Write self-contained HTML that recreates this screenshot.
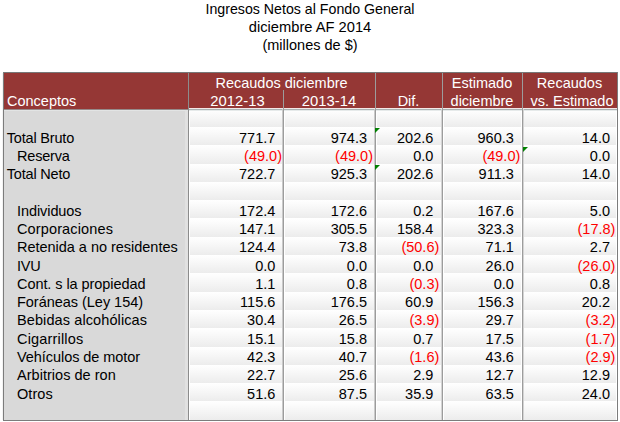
<!DOCTYPE html><html><head><meta charset="utf-8"><style>
html,body{margin:0;padding:0;background:#fff;width:620px;height:422px;overflow:hidden}
body{position:relative;font-family:"Liberation Sans",sans-serif;font-size:14.5px;color:#000}
.t{position:absolute;white-space:nowrap;line-height:20px;height:20px}
.c{text-align:center}.r{text-align:right}.red{color:#f00}.w{color:#fff}
.a{position:absolute}
.g{background:linear-gradient(to bottom,#fff 0%,#fcfcfc 18%,#ececec 100%)}
</style></head><body>
<div class="t c" style="left:160px;width:300px;top:-0.76px;font-size:14.2px">Ingresos Netos al Fondo General</div>
<div class="t c" style="left:160px;width:300px;top:17.34px;font-size:14.7px">diciembre AF 2014</div>
<div class="t c" style="left:160px;width:300px;top:35.44px;font-size:14.5px">(millones de $)</div>
<div class="a" style="left:3px;top:72px;width:615px;height:349px;background:#fff"></div>
<div class="a" style="left:2px;top:73px;width:1px;height:347px;background:#f3f3f3"></div>
<div class="a" style="left:4px;top:73px;width:184px;height:347px;background:#d9d9d9"></div>
<div class="a" style="left:185px;top:111px;width:3px;height:309px;background:#e1e1e1"></div>
<div class="a g" style="left:190px;top:108.74px;width:92px;height:18.29px"></div>
<div class="a g" style="left:285px;top:108.74px;width:89px;height:18.29px"></div>
<div class="a g" style="left:377px;top:108.74px;width:64px;height:18.29px"></div>
<div class="a g" style="left:444px;top:108.74px;width:77px;height:18.29px"></div>
<div class="a g" style="left:524px;top:108.74px;width:92px;height:18.29px"></div>
<div class="a g" style="left:190px;top:127.03px;width:92px;height:18.29px"></div>
<div class="a g" style="left:285px;top:127.03px;width:89px;height:18.29px"></div>
<div class="a g" style="left:377px;top:127.03px;width:64px;height:18.29px"></div>
<div class="a g" style="left:444px;top:127.03px;width:77px;height:18.29px"></div>
<div class="a g" style="left:524px;top:127.03px;width:92px;height:18.29px"></div>
<div class="a g" style="left:190px;top:145.33px;width:92px;height:18.29px"></div>
<div class="a g" style="left:285px;top:145.33px;width:89px;height:18.29px"></div>
<div class="a g" style="left:377px;top:145.33px;width:64px;height:18.29px"></div>
<div class="a g" style="left:444px;top:145.33px;width:77px;height:18.29px"></div>
<div class="a g" style="left:524px;top:145.33px;width:92px;height:18.29px"></div>
<div class="a g" style="left:190px;top:163.62px;width:92px;height:18.29px"></div>
<div class="a g" style="left:285px;top:163.62px;width:89px;height:18.29px"></div>
<div class="a g" style="left:377px;top:163.62px;width:64px;height:18.29px"></div>
<div class="a g" style="left:444px;top:163.62px;width:77px;height:18.29px"></div>
<div class="a g" style="left:524px;top:163.62px;width:92px;height:18.29px"></div>
<div class="a g" style="left:190px;top:181.91px;width:92px;height:18.29px"></div>
<div class="a g" style="left:285px;top:181.91px;width:89px;height:18.29px"></div>
<div class="a g" style="left:377px;top:181.91px;width:64px;height:18.29px"></div>
<div class="a g" style="left:444px;top:181.91px;width:77px;height:18.29px"></div>
<div class="a g" style="left:524px;top:181.91px;width:92px;height:18.29px"></div>
<div class="a g" style="left:190px;top:200.21px;width:92px;height:18.29px"></div>
<div class="a g" style="left:285px;top:200.21px;width:89px;height:18.29px"></div>
<div class="a g" style="left:377px;top:200.21px;width:64px;height:18.29px"></div>
<div class="a g" style="left:444px;top:200.21px;width:77px;height:18.29px"></div>
<div class="a g" style="left:524px;top:200.21px;width:92px;height:18.29px"></div>
<div class="a g" style="left:190px;top:218.50px;width:92px;height:18.29px"></div>
<div class="a g" style="left:285px;top:218.50px;width:89px;height:18.29px"></div>
<div class="a g" style="left:377px;top:218.50px;width:64px;height:18.29px"></div>
<div class="a g" style="left:444px;top:218.50px;width:77px;height:18.29px"></div>
<div class="a g" style="left:524px;top:218.50px;width:92px;height:18.29px"></div>
<div class="a g" style="left:190px;top:236.79px;width:92px;height:18.29px"></div>
<div class="a g" style="left:285px;top:236.79px;width:89px;height:18.29px"></div>
<div class="a g" style="left:377px;top:236.79px;width:64px;height:18.29px"></div>
<div class="a g" style="left:444px;top:236.79px;width:77px;height:18.29px"></div>
<div class="a g" style="left:524px;top:236.79px;width:92px;height:18.29px"></div>
<div class="a g" style="left:190px;top:255.09px;width:92px;height:18.29px"></div>
<div class="a g" style="left:285px;top:255.09px;width:89px;height:18.29px"></div>
<div class="a g" style="left:377px;top:255.09px;width:64px;height:18.29px"></div>
<div class="a g" style="left:444px;top:255.09px;width:77px;height:18.29px"></div>
<div class="a g" style="left:524px;top:255.09px;width:92px;height:18.29px"></div>
<div class="a g" style="left:190px;top:273.38px;width:92px;height:18.29px"></div>
<div class="a g" style="left:285px;top:273.38px;width:89px;height:18.29px"></div>
<div class="a g" style="left:377px;top:273.38px;width:64px;height:18.29px"></div>
<div class="a g" style="left:444px;top:273.38px;width:77px;height:18.29px"></div>
<div class="a g" style="left:524px;top:273.38px;width:92px;height:18.29px"></div>
<div class="a g" style="left:190px;top:291.68px;width:92px;height:18.29px"></div>
<div class="a g" style="left:285px;top:291.68px;width:89px;height:18.29px"></div>
<div class="a g" style="left:377px;top:291.68px;width:64px;height:18.29px"></div>
<div class="a g" style="left:444px;top:291.68px;width:77px;height:18.29px"></div>
<div class="a g" style="left:524px;top:291.68px;width:92px;height:18.29px"></div>
<div class="a g" style="left:190px;top:309.97px;width:92px;height:18.29px"></div>
<div class="a g" style="left:285px;top:309.97px;width:89px;height:18.29px"></div>
<div class="a g" style="left:377px;top:309.97px;width:64px;height:18.29px"></div>
<div class="a g" style="left:444px;top:309.97px;width:77px;height:18.29px"></div>
<div class="a g" style="left:524px;top:309.97px;width:92px;height:18.29px"></div>
<div class="a g" style="left:190px;top:328.26px;width:92px;height:18.29px"></div>
<div class="a g" style="left:285px;top:328.26px;width:89px;height:18.29px"></div>
<div class="a g" style="left:377px;top:328.26px;width:64px;height:18.29px"></div>
<div class="a g" style="left:444px;top:328.26px;width:77px;height:18.29px"></div>
<div class="a g" style="left:524px;top:328.26px;width:92px;height:18.29px"></div>
<div class="a g" style="left:190px;top:346.56px;width:92px;height:18.29px"></div>
<div class="a g" style="left:285px;top:346.56px;width:89px;height:18.29px"></div>
<div class="a g" style="left:377px;top:346.56px;width:64px;height:18.29px"></div>
<div class="a g" style="left:444px;top:346.56px;width:77px;height:18.29px"></div>
<div class="a g" style="left:524px;top:346.56px;width:92px;height:18.29px"></div>
<div class="a g" style="left:190px;top:364.85px;width:92px;height:18.29px"></div>
<div class="a g" style="left:285px;top:364.85px;width:89px;height:18.29px"></div>
<div class="a g" style="left:377px;top:364.85px;width:64px;height:18.29px"></div>
<div class="a g" style="left:444px;top:364.85px;width:77px;height:18.29px"></div>
<div class="a g" style="left:524px;top:364.85px;width:92px;height:18.29px"></div>
<div class="a g" style="left:190px;top:383.14px;width:92px;height:18.29px"></div>
<div class="a g" style="left:285px;top:383.14px;width:89px;height:18.29px"></div>
<div class="a g" style="left:377px;top:383.14px;width:64px;height:18.29px"></div>
<div class="a g" style="left:444px;top:383.14px;width:77px;height:18.29px"></div>
<div class="a g" style="left:524px;top:383.14px;width:92px;height:18.29px"></div>
<div class="a g" style="left:190px;top:401.44px;width:92px;height:18.29px"></div>
<div class="a g" style="left:285px;top:401.44px;width:89px;height:18.29px"></div>
<div class="a g" style="left:377px;top:401.44px;width:64px;height:18.29px"></div>
<div class="a g" style="left:444px;top:401.44px;width:77px;height:18.29px"></div>
<div class="a g" style="left:524px;top:401.44px;width:92px;height:18.29px"></div>
<div class="a" style="left:4px;top:73px;width:613px;height:35px;background:#953735"></div>
<div class="a" style="left:4px;top:108px;width:184px;height:1px;background:#953735"></div>
<div class="a" style="left:4px;top:109px;width:184px;height:1px;background:#968a8a"></div>
<div class="a" style="left:4px;top:110px;width:184px;height:1px;background:#e2e4e4"></div>
<div class="a" style="left:189px;top:108px;width:428px;height:1px;background:#f4e8e8"></div>
<div class="a" style="left:189px;top:109px;width:428px;height:1px;background:#a8b2b2"></div>
<div class="a" style="left:189px;top:110px;width:428px;height:1px;background:#e6eaea"></div>
<div class="a" style="left:3px;top:72px;width:615px;height:1px;background:#777"></div>
<div class="a" style="left:3px;top:420px;width:615px;height:1px;background:#7c7c7c"></div>
<div class="a" style="left:3px;top:72px;width:1px;height:349px;background:#7c7c7c"></div>
<div class="a" style="left:617px;top:72px;width:1px;height:349px;background:#7c7c7c"></div>
<div class="a" style="left:188px;top:73px;width:1px;height:347px;background:#8c8c8c"></div>
<div class="a" style="left:283px;top:90px;width:1px;height:330px;background:#9c9c9c"></div>
<div class="a" style="left:282px;top:109px;width:1px;height:311px;background:#cacaca"></div>
<div class="a" style="left:375px;top:73px;width:1px;height:347px;background:#9c9c9c"></div>
<div class="a" style="left:374px;top:109px;width:1px;height:311px;background:#cacaca"></div>
<div class="a" style="left:442px;top:73px;width:1px;height:347px;background:#9c9c9c"></div>
<div class="a" style="left:441px;top:109px;width:1px;height:311px;background:#d4d4d4"></div>
<div class="a" style="left:522px;top:73px;width:1px;height:347px;background:#9c9c9c"></div>
<div class="a" style="left:523px;top:109px;width:1px;height:311px;background:#d4d4d4"></div>
<div class="t c w" style="left:188px;width:187px;top:72.54px">Recaudos diciembre</div>
<div class="t w" style="left:7px;top:90.64px">Conceptos</div>
<div class="t c w" style="left:190px;width:95px;top:90.64px;font-size:14.8px">2012-13</div>
<div class="t c w" style="left:283px;width:92px;top:90.64px;font-size:14.8px">2013-14</div>
<div class="t c w" style="left:375px;width:67px;top:90.64px">Dif.</div>
<div class="t c w" style="left:442px;width:80px;top:72.54px">Estimado</div>
<div class="t c w" style="left:442px;width:80px;top:90.64px">diciembre</div>
<div class="t c w" style="left:522px;width:95px;top:72.54px">Recaudos</div>
<div class="t c w" style="left:524.5px;width:95px;top:90.64px">vs. Estimado</div>
<div class="t" style="left:6.8px;top:127.53px;letter-spacing:-0.190px">Total Bruto</div>
<div class="t r" style="left:175.30px;width:100px;top:127.53px">771.7</div>
<div class="t r" style="left:267.00px;width:100px;top:127.53px">974.3</div>
<div class="t r" style="left:333.30px;width:100px;top:127.53px">202.6</div>
<div class="t r" style="left:413.80px;width:100px;top:127.53px">960.3</div>
<div class="t r" style="left:510.00px;width:100px;top:127.53px">14.0</div>
<div class="t" style="left:17.0px;top:145.83px;letter-spacing:-0.183px">Reserva</div>
<div class="t r red" style="left:182.00px;width:100px;top:145.83px">(49.0)</div>
<div class="t r red" style="left:273.00px;width:100px;top:145.83px">(49.0)</div>
<div class="t r" style="left:333.30px;width:100px;top:145.83px">0.0</div>
<div class="t r red" style="left:420.30px;width:100px;top:145.83px">(49.0)</div>
<div class="t r" style="left:510.00px;width:100px;top:145.83px">0.0</div>
<div class="t" style="left:6.8px;top:164.12px;letter-spacing:-0.189px">Total Neto</div>
<div class="t r" style="left:175.30px;width:100px;top:164.12px">722.7</div>
<div class="t r" style="left:267.00px;width:100px;top:164.12px">925.3</div>
<div class="t r" style="left:333.30px;width:100px;top:164.12px">202.6</div>
<div class="t r" style="left:413.80px;width:100px;top:164.12px">911.3</div>
<div class="t r" style="left:510.00px;width:100px;top:164.12px">14.0</div>
<div class="t" style="left:17.0px;top:200.71px;letter-spacing:-0.078px">Individuos</div>
<div class="t r" style="left:175.30px;width:100px;top:200.71px">172.4</div>
<div class="t r" style="left:267.00px;width:100px;top:200.71px">172.6</div>
<div class="t r" style="left:333.30px;width:100px;top:200.71px">0.2</div>
<div class="t r" style="left:413.80px;width:100px;top:200.71px">167.6</div>
<div class="t r" style="left:510.00px;width:100px;top:200.71px">5.0</div>
<div class="t" style="left:17.0px;top:219.00px;letter-spacing:0.133px">Corporaciones</div>
<div class="t r" style="left:175.30px;width:100px;top:219.00px">147.1</div>
<div class="t r" style="left:267.00px;width:100px;top:219.00px">305.5</div>
<div class="t r" style="left:333.30px;width:100px;top:219.00px">158.4</div>
<div class="t r" style="left:413.80px;width:100px;top:219.00px">323.3</div>
<div class="t r red" style="left:515.40px;width:100px;top:219.00px">(17.8)</div>
<div class="t" style="left:17.0px;top:237.29px;letter-spacing:-0.022px">Retenida a no residentes</div>
<div class="t r" style="left:175.30px;width:100px;top:237.29px">124.4</div>
<div class="t r" style="left:267.00px;width:100px;top:237.29px">73.8</div>
<div class="t r red" style="left:339.30px;width:100px;top:237.29px">(50.6)</div>
<div class="t r" style="left:413.80px;width:100px;top:237.29px">71.1</div>
<div class="t r" style="left:510.00px;width:100px;top:237.29px">2.7</div>
<div class="t" style="left:17.0px;top:255.59px;letter-spacing:-0.200px">IVU</div>
<div class="t r" style="left:175.30px;width:100px;top:255.59px">0.0</div>
<div class="t r" style="left:267.00px;width:100px;top:255.59px">0.0</div>
<div class="t r" style="left:333.30px;width:100px;top:255.59px">0.0</div>
<div class="t r" style="left:413.80px;width:100px;top:255.59px">26.0</div>
<div class="t r red" style="left:515.40px;width:100px;top:255.59px">(26.0)</div>
<div class="t" style="left:17.0px;top:273.88px;letter-spacing:-0.068px">Cont. s la propiedad</div>
<div class="t r" style="left:175.30px;width:100px;top:273.88px">1.1</div>
<div class="t r" style="left:267.00px;width:100px;top:273.88px">0.8</div>
<div class="t r red" style="left:339.30px;width:100px;top:273.88px">(0.3)</div>
<div class="t r" style="left:413.80px;width:100px;top:273.88px">0.0</div>
<div class="t r" style="left:510.00px;width:100px;top:273.88px">0.8</div>
<div class="t" style="left:17.0px;top:292.18px;letter-spacing:-0.029px">Foráneas (Ley 154)</div>
<div class="t r" style="left:175.30px;width:100px;top:292.18px">115.6</div>
<div class="t r" style="left:267.00px;width:100px;top:292.18px">176.5</div>
<div class="t r" style="left:333.30px;width:100px;top:292.18px">60.9</div>
<div class="t r" style="left:413.80px;width:100px;top:292.18px">156.3</div>
<div class="t r" style="left:510.00px;width:100px;top:292.18px">20.2</div>
<div class="t" style="left:17.0px;top:310.47px;letter-spacing:0.100px">Bebidas alcohólicas</div>
<div class="t r" style="left:175.30px;width:100px;top:310.47px">30.4</div>
<div class="t r" style="left:267.00px;width:100px;top:310.47px">26.5</div>
<div class="t r red" style="left:339.30px;width:100px;top:310.47px">(3.9)</div>
<div class="t r" style="left:413.80px;width:100px;top:310.47px">29.7</div>
<div class="t r red" style="left:515.40px;width:100px;top:310.47px">(3.2)</div>
<div class="t" style="left:17.0px;top:328.76px;letter-spacing:0.170px">Cigarrillos</div>
<div class="t r" style="left:175.30px;width:100px;top:328.76px">15.1</div>
<div class="t r" style="left:267.00px;width:100px;top:328.76px">15.8</div>
<div class="t r" style="left:333.30px;width:100px;top:328.76px">0.7</div>
<div class="t r" style="left:413.80px;width:100px;top:328.76px">17.5</div>
<div class="t r red" style="left:515.40px;width:100px;top:328.76px">(1.7)</div>
<div class="t" style="left:17.0px;top:347.06px;letter-spacing:-0.059px">Vehículos de motor</div>
<div class="t r" style="left:175.30px;width:100px;top:347.06px">42.3</div>
<div class="t r" style="left:267.00px;width:100px;top:347.06px">40.7</div>
<div class="t r red" style="left:339.30px;width:100px;top:347.06px">(1.6)</div>
<div class="t r" style="left:413.80px;width:100px;top:347.06px">43.6</div>
<div class="t r red" style="left:515.40px;width:100px;top:347.06px">(2.9)</div>
<div class="t" style="left:17.0px;top:365.35px;letter-spacing:0.027px">Arbitrios de ron</div>
<div class="t r" style="left:175.30px;width:100px;top:365.35px">22.7</div>
<div class="t r" style="left:267.00px;width:100px;top:365.35px">25.6</div>
<div class="t r" style="left:333.30px;width:100px;top:365.35px">2.9</div>
<div class="t r" style="left:413.80px;width:100px;top:365.35px">12.7</div>
<div class="t r" style="left:510.00px;width:100px;top:365.35px">12.9</div>
<div class="t" style="left:17.0px;top:383.64px;letter-spacing:0.075px">Otros</div>
<div class="t r" style="left:175.30px;width:100px;top:383.64px">51.6</div>
<div class="t r" style="left:267.00px;width:100px;top:383.64px">87.5</div>
<div class="t r" style="left:333.30px;width:100px;top:383.64px">35.9</div>
<div class="t r" style="left:413.80px;width:100px;top:383.64px">63.5</div>
<div class="t r" style="left:510.00px;width:100px;top:383.64px">24.0</div>
<div class="a" style="left:375.0px;top:128.0px;width:0;height:0;border-top:5px solid #008000;border-right:5px solid transparent"></div>
<div class="a" style="left:522.6px;top:146.6px;width:0;height:0;border-top:5px solid #008000;border-right:5px solid transparent"></div>
<div class="a" style="left:375.0px;top:164.9px;width:0;height:0;border-top:5px solid #008000;border-right:5px solid transparent"></div>
</body></html>
